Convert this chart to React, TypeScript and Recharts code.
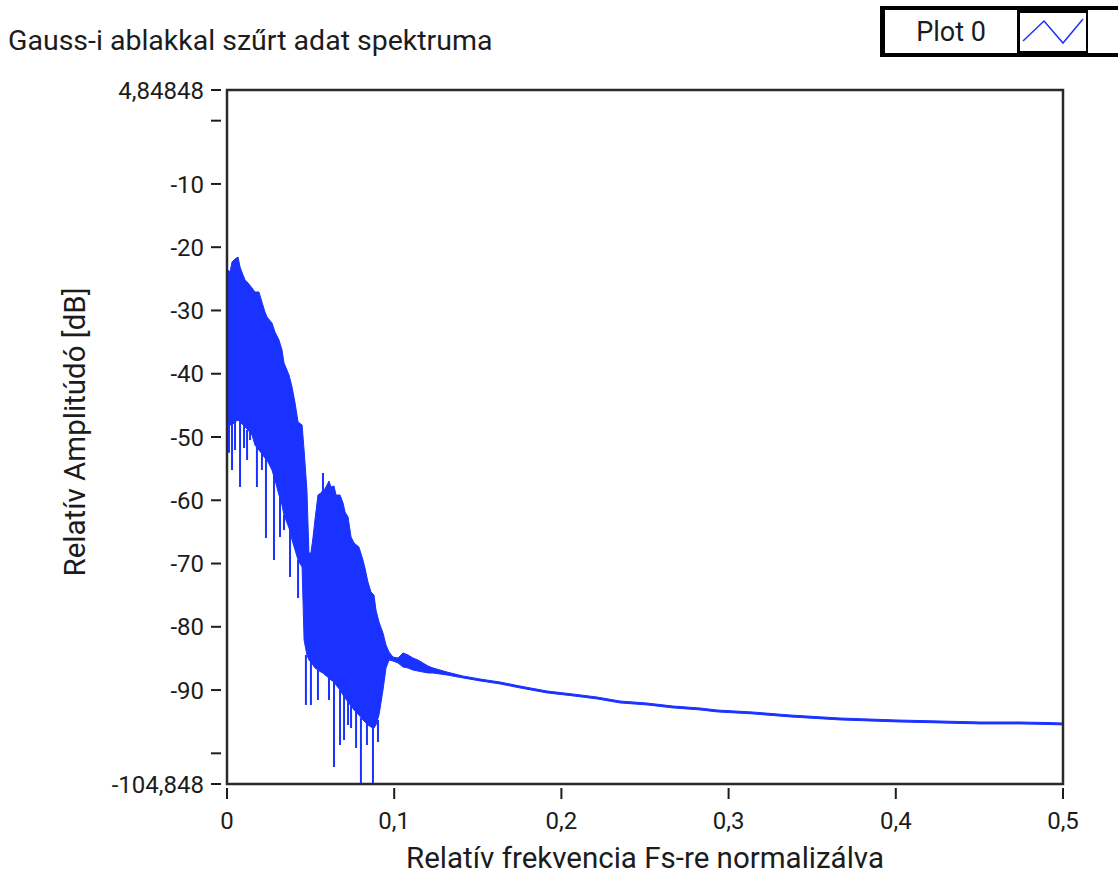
import { ComposedChart, Area, Line, XAxis, YAxis, ReferenceArea } from 'recharts';

// relative frequency (Fs-normalised) and the upper / lower edge of the spectrum band, dB
const freq = [
  0, 0.0018, 0.003, 0.0048, 0.0066, 0.0078, 0.0096, 0.0108, 0.0126, 0.015,
  0.0167, 0.0191, 0.0209, 0.0227, 0.0239, 0.0269, 0.0287, 0.0311, 0.0329, 0.0341,
  0.0371, 0.0389, 0.0407, 0.0425, 0.0449, 0.0461, 0.0478, 0.049, 0.0502, 0.0514,
  0.0526, 0.0544, 0.0562, 0.0574, 0.0586, 0.061, 0.0622, 0.064, 0.0652, 0.0676,
  0.0694, 0.0706, 0.0724, 0.0742, 0.076, 0.0789, 0.0813, 0.0825, 0.0843, 0.0861,
  0.0879, 0.0891, 0.0909, 0.0933, 0.0951, 0.0969, 0.0993, 0.1023, 0.1053, 0.1083,
  0.1112, 0.1142, 0.1172, 0.1202, 0.1232, 0.1274, 0.1316, 0.1411, 0.1513, 0.1633,
  0.1752, 0.1914, 0.2069, 0.2213, 0.235, 0.2512, 0.2667, 0.2829, 0.2931, 0.3146,
  0.3367, 0.3666, 0.4007, 0.4264, 0.4504, 0.4743, 0.4904, 0.5,
];
const ampHigh = [
  -23.45, -23.92, -22.34, -21.87, -21.55, -23.13, -24.39, -25.18, -25.66, -26.45,
  -27.08, -27.08, -28.66, -30.24, -31.03, -31.98, -33.4, -34.67, -36.25, -38.3,
  -40.2, -42.1, -44.63, -47.63, -48.1, -52.06, -58.38, -68.34, -68.34, -65.97,
  -63.12, -59.17, -58.85, -58.4, -58.22, -56.96, -57.9, -57.75, -59.17, -59.17,
  -60.43, -61.86, -62.65, -65.81, -66.76, -67.39, -69.44, -70.71, -72.92, -74.5,
  -74.98, -77.35, -79.24, -80.98, -82.88, -83.99, -84.78, -84.93, -84.14, -84.46,
  -84.93, -85.25, -85.72, -86.2, -86.51, -86.83, -87.15, -87.78, -88.25, -88.73,
  -89.36, -90.15, -90.62, -91.1, -91.73, -92.05, -92.52, -92.84, -93.15, -93.47,
  -93.94, -94.42, -94.73, -94.89, -95.05, -95.05, -95.13, -95.21,
];
const ampLow = [
  -47.32, -48.1, -48.1, -47.63, -47.32, -47.63, -48.1, -48.42, -48.9, -49.69,
  -51.27, -52.06, -52.69, -53.32, -53.64, -55.22, -56.8, -59.17, -60.75, -62.33,
  -64.39, -66.28, -67.86, -69.44, -70.55, -82.09, -84.46, -85.25, -85.57, -86.04,
  -86.51, -86.83, -87.15, -87.3, -87.62, -88.1, -88.41, -88.73, -89.2, -89.99,
  -90.78, -91.26, -91.89, -92.52, -93.15, -93.94, -94.73, -95.05, -95.52, -95.84,
  -96.0, -95.52, -93.94, -89.99, -86.51, -85.25, -85.41, -85.72, -86.36, -86.51,
  -86.83, -86.99, -87.15, -87.3, -87.3, -87.46, -87.62, -88.08, -88.55, -89.03,
  -89.66, -90.45, -90.92, -91.4, -92.03, -92.35, -92.82, -93.14, -93.45, -93.77,
  -94.24, -94.72, -95.03, -95.19, -95.35, -95.35, -95.43, -95.51,
];

// single-bin spikes sticking out of the band
const spikeFreq = [
  0.0012, 0.003, 0.0048, 0.0078, 0.0102, 0.012, 0.0138, 0.0179, 0.0209, 0.0233, 0.0281,
  0.0317, 0.0341, 0.0377, 0.0425, 0.0472, 0.0502, 0.0544, 0.0574, 0.061, 0.064,
  0.0676, 0.07, 0.0724, 0.0742, 0.0772, 0.0801, 0.0837, 0.0873, 0.0903,
];
const spikeFrom = [
  -47.6, -48.1, -47.63, -47.63, -48.1, -48.9, -48.9, -51.27, -52.69, -53.32, -55.9,
  -59.17, -62.33, -64.39, -69.44, -84.46, -85.25, -86.83, -59.17, -88.1, -88.73,
  -89.99, -90.78, -91.57, -92.52, -93.47, -94.42, -95.05, -95.84, -94.73,
];
const spikeTo = [
  -52.5, -55.22, -52.06, -57.9, -51.74, -53.64, -50.47, -57.9, -55.22, -65.97, -69.44,
  -65.81, -64.7, -72.13, -75.45, -92.36, -92.36, -91.57, -55.69, -91.57, -102.16,
  -98.69, -97.9, -95.52, -96.0, -99.16, -104.7, -98.69, -104.7, -98.21,
];

const xTicks = [0, 0.1, 0.2, 0.3, 0.4, 0.5];
const yTicks = [4.84848, 0, -10, -20, -30, -40, -50, -60, -70, -80, -90, -100, -104.848];
const yUnlabeled = [0, -100];
const Y_MAX = 4.84848;
const Y_MIN = -104.848;

const BLUE = '#1a32ff';
const INK = '#1c1c1c';
const FONT = "Roboto, 'DejaVu Sans', sans-serif";

const bandData = freq.map((f, i) => ({ f, band: [ampLow[i], ampHigh[i]] }));
const spikeData = spikeFreq.flatMap((f, i) => [
  { f, v: spikeFrom[i] },
  { f, v: spikeTo[i] },
  { f, v: null },
]);

const comma = (v: number) => String(v).replace('.', ',');

function YTick({ x, y, payload }: any) {
  const v = payload.value;
  const label = yUnlabeled.includes(v) ? '' : comma(v);
  return (
    <g>
      <line x1={x - 16} x2={x - 6} y1={y} y2={y} stroke={INK} strokeWidth={2} />
      {label && (
        <text x={x - 23} y={y} dy="0.36em" textAnchor="end" fontSize={24} fontFamily={FONT} fill={INK}>
          {label}
        </text>
      )}
    </g>
  );
}

function XTick({ x, y, payload }: any) {
  const v = Math.round(payload.value * 10) / 10;
  return (
    <g>
      <line x1={x} x2={x} y1={y + 4} y2={y + 15} stroke={INK} strokeWidth={2} />
      <text x={x} y={y + 45} textAnchor="middle" fontSize={24} fontFamily={FONT} fill={INK}>
        {comma(v)}
      </text>
    </g>
  );
}

export default function App() {
  return (
    <div style={{ position: 'absolute', left: 0, top: 0, width: 1118, height: 876, background: '#fff', fontFamily: FONT, color: INK }}>
      <div style={{ position: 'absolute', left: 8, top: 24, fontSize: 28.5, whiteSpace: 'nowrap' }}>
        Gauss-i ablakkal szűrt adat spektruma
      </div>

      {/* plot legend box */}
      <div style={{ position: 'absolute', left: 880, top: 6, width: 250, height: 51, background: '#000' }}>
        <div style={{ position: 'absolute', left: 5, top: 4, width: 132, height: 43, background: '#fff', display: 'flex', alignItems: 'center', justifyContent: 'center', fontSize: 27 }}>
          Plot 0
        </div>
        <div style={{ position: 'absolute', left: 140, top: 7, width: 66, height: 38, background: '#fff' }}>
          <svg width={66} height={38}>
            <polyline points="3,28 24,8 43,30 63,6" fill="none" stroke={BLUE} strokeWidth={1.5} />
          </svg>
        </div>
        <div style={{ position: 'absolute', left: 208, top: 4, width: 40, height: 43, background: '#fff' }} />
      </div>

      <ComposedChart width={1118} height={876} margin={{ top: 90, right: 55, bottom: 0, left: 0 }}>
        <XAxis
          dataKey="f"
          type="number"
          domain={[0, 0.5]}
          ticks={xTicks}
          tick={<XTick />}
          tickSize={0}
          tickMargin={0}
          axisLine={false}
          tickLine={false}
          height={92}
          allowDataOverflow
        />
        <YAxis
          type="number"
          domain={[Y_MIN, Y_MAX]}
          ticks={yTicks}
          tick={<YTick />}
          tickSize={0}
          tickMargin={0}
          axisLine={false}
          tickLine={false}
          width={227}
          interval={0}
          allowDataOverflow
        />
        <Area
          data={bandData}
          dataKey="band"
          type="linear"
          stroke={BLUE}
          strokeWidth={1}
          fill={BLUE}
          fillOpacity={1}
          dot={false}
          activeDot={false}
          isAnimationActive={false}
        />
        <Line
          data={spikeData}
          dataKey="v"
          type="linear"
          stroke={BLUE}
          strokeWidth={2}
          dot={false}
          activeDot={false}
          connectNulls={false}
          isAnimationActive={false}
        />
        <ReferenceArea x1={0} x2={0.5} y1={Y_MIN} y2={Y_MAX} fill="none" stroke="#2a2a2a" strokeWidth={2.5} />
      </ComposedChart>

      <div style={{ position: 'absolute', left: 645, top: 858, transform: 'translate(-50%, -50%)', fontSize: 29.5, whiteSpace: 'nowrap' }}>
        Relatív frekvencia Fs-re normalizálva
      </div>
      <div style={{ position: 'absolute', left: 75, top: 432, transform: 'translate(-50%, -50%) rotate(-90deg)', fontSize: 29.5, whiteSpace: 'nowrap' }}>
        Relatív Amplitúdó [dB]
      </div>
    </div>
  );
}
